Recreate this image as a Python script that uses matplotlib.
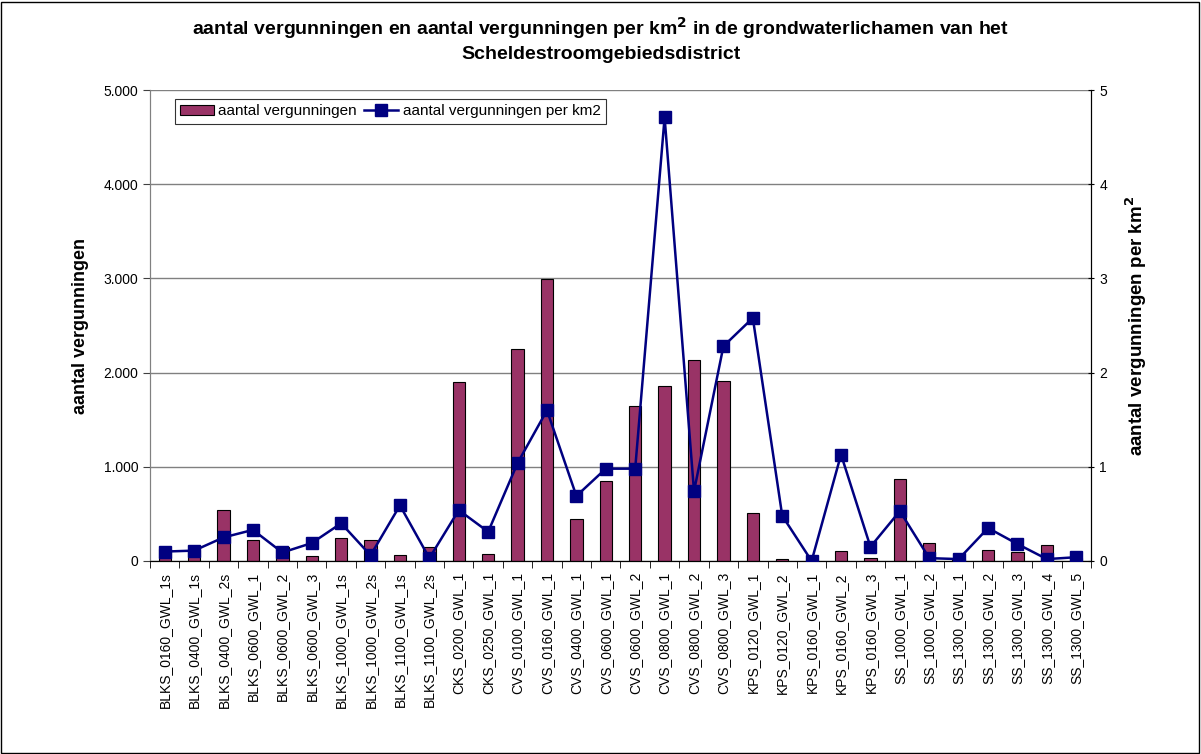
import numpy as np
import matplotlib
matplotlib.use("Agg")
import matplotlib.pyplot as plt
from matplotlib.patches import Rectangle

plt.rcParams["font.family"] = ["Liberation Sans", "DejaVu Sans"]

# data
categories = ["BLKS_0160_GWL_1s", "BLKS_0400_GWL_1s", "BLKS_0400_GWL_2s", "BLKS_0600_GWL_1",
              "BLKS_0600_GWL_2", "BLKS_0600_GWL_3", "BLKS_1000_GWL_1s", "BLKS_1000_GWL_2s",
              "BLKS_1100_GWL_1s", "BLKS_1100_GWL_2s", "CKS_0200_GWL_1", "CKS_0250_GWL_1",
              "CVS_0100_GWL_1", "CVS_0160_GWL_1", "CVS_0400_GWL_1", "CVS_0600_GWL_1",
              "CVS_0600_GWL_2", "CVS_0800_GWL_1", "CVS_0800_GWL_2", "CVS_0800_GWL_3",
              "KPS_0120_GWL_1", "KPS_0120_GWL_2", "KPS_0160_GWL_1", "KPS_0160_GWL_2",
              "KPS_0160_GWL_3", "SS_1000_GWL_1", "SS_1000_GWL_2", "SS_1300_GWL_1",
              "SS_1300_GWL_2", "SS_1300_GWL_3", "SS_1300_GWL_4", "SS_1300_GWL_5"]

vergunningen = [130, 120, 545, 221, 151, 53, 246, 221, 63, 151,
                1895, 78, 2250, 2995, 445, 852, 1650, 1855, 2134, 1908,
                512, 25, 5, 106, 28, 866, 194, 20, 117, 92, 173, 30]

per_km2 = [0.10, 0.11, 0.25, 0.33, 0.09, 0.19, 0.40, 0.06, 0.59, 0.03,
           0.54, 0.31, 1.04, 1.60, 0.69, 0.98, 0.98, 4.71, 0.74, 2.28,
           2.58, 0.48, 0.00, 1.13, 0.15, 0.53, 0.03, 0.02, 0.35, 0.18, 0.02, 0.04]

left_ticks = [0, 1000, 2000, 3000, 4000, 5000]
left_labels = ["0", "1.000", "2.000", "3.000", "4.000", "5.000"]
right_ticks = [0, 1, 2, 3, 4, 5]

BAR_COLOR = "#993366"
LINE_COLOR = "#000080"

fig = plt.figure(figsize=(12.01, 7.54), dpi=100)
ax = fig.add_axes([0.1249, 0.256, 0.7835, 0.6246])
ax2 = ax.twinx()

x = np.arange(len(categories))

bars = ax.bar(x, vergunningen, width=0.42, color=BAR_COLOR, edgecolor="black",
              linewidth=0.8, label="aantal vergunningen", zorder=2)
line, = ax2.plot(x, per_km2, color=LINE_COLOR, linewidth=1.8, marker="s",
                 markersize=8.5, label="aantal vergunningen per km2", zorder=3)

ax.set_xlim(-0.5, len(categories) - 0.5)
ax.set_ylim(0, 5000)
ax2.set_ylim(0, 5)

ax.set_yticks(left_ticks)
ax.set_yticklabels(left_labels, fontsize=10)
ax2.set_yticks(right_ticks)
ax2.set_yticklabels([str(t) for t in right_ticks], fontsize=10)

ax.yaxis.grid(True, color="#808080", linewidth=1, zorder=0)
ax.set_axisbelow(True)

# category labels, ticks between categories
ax.set_xticks(x)
ax.set_xticklabels(categories, rotation=90, fontsize=10)
ax.tick_params(axis="x", length=0, pad=8)
ax.set_xticks(np.arange(-0.5, len(categories), 1), minor=True)
ax.tick_params(axis="x", which="minor", length=5, direction="out", color="black")

ax.tick_params(axis="y", length=5, color="#404040")
ax2.tick_params(axis="y", length=5, color="black", direction="inout")

for a in (ax, ax2):
    a.spines["top"].set_visible(False)
    a.spines["left"].set_color("#808080")
    a.spines["right"].set_color("black")
    a.spines["bottom"].set_color("black")

ax.set_ylabel("aantal vergunningen", fontsize=13, fontweight="bold", labelpad=10)
ax2.set_ylabel("aantal vergunningen per km$^\\mathbf{2}$", fontsize=13.5, fontweight="bold",
               labelpad=12)

fig.suptitle("aantal vergunningen en aantal vergunningen per km$^\\mathbf{2}$ in de grondwaterlichamen van het\nScheldestroomgebiedsdistrict",
             fontsize=14, fontweight="bold", y=0.98, linespacing=1.4)

leg = ax.legend([bars, line], ["aantal vergunningen", "aantal vergunningen per km2"],
                loc="upper left", bbox_to_anchor=(0.018, 0.997), ncol=2, fontsize=11,
                frameon=True, fancybox=False, edgecolor="black", handlelength=2.2,
                columnspacing=0.5, handletextpad=0.3, borderpad=0.35)
leg.get_frame().set_linewidth(0.8)
leg.set_zorder(5)

fig.patches.append(Rectangle((0.001, 0.001), 0.997, 0.997, transform=fig.transFigure,
                             fill=False, edgecolor="black", linewidth=1))

fig.savefig("out.png", dpi=100)
